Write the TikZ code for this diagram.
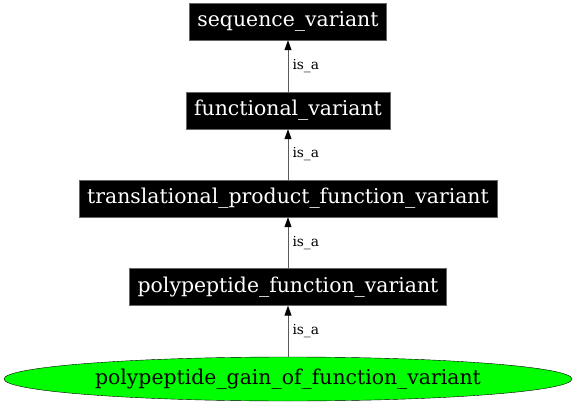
\documentclass[tikz,border=0pt]{standalone}
\usepackage{fontspec}
\setmainfont{DejaVu Serif}
\usetikzlibrary{arrows.meta,shapes.geometric}

\begin{document}
\begin{tikzpicture}[x=1pt,y=1pt]
\tikzstyle{term}=[draw=black!60,fill=black,text=white,inner xsep=8pt,minimum height=37pt,font=\fontsize{20.4}{24}\selectfont]
\tikzstyle{leaf}=[draw=black,fill=green,ellipse,inner sep=0pt,minimum width=568pt,minimum height=44pt,font=\fontsize{20.4}{24}\selectfont]
\tikzstyle{isa}=[draw=black!65,line width=1pt,-{Triangle[length=10pt,width=7pt,fill=black,color=black]}]
\tikzstyle{lbl}=[right,inner sep=4pt,font=\fontsize{13.8}{16}\selectfont]
\useasboundingbox (0,0) rectangle (576,405);
\node [term] (seq) at (288,383.5) {sequence\_variant};
\node [term] (func) at (288,294.5) {functional\_variant};
\node [term] (trans) at (288,206.5) {translational\_product\_function\_variant};
\node [term] (poly) at (288,118) {polypeptide\_function\_variant};
\node [leaf] (gain) at (288,26) {polypeptide\_gain\_of\_function\_variant};
\draw [isa] (func) -- node [lbl] {is\_a} (seq);
\draw [isa] (trans) -- node [lbl] {is\_a} (func);
\draw [isa] (poly) -- node [lbl] {is\_a} (trans);
\draw [isa] (gain) -- node [lbl] {is\_a} (poly);
\end{tikzpicture}
\end{document}
